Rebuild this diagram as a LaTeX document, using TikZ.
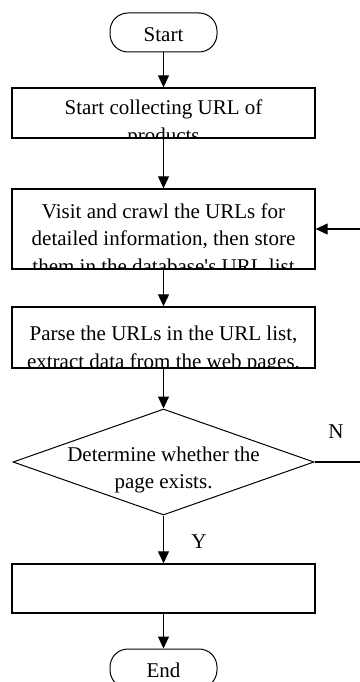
\documentclass[tikz,border=0pt]{standalone}
\usepackage{fontspec}
\setmainfont{Liberation Serif}
\usetikzlibrary{arrows.meta,shapes.geometric}

\tikzset{
  procbox/.style={draw, rectangle, line width=1.3pt, minimum width=303pt, inner sep=0pt},
  termbox/.style={draw, rectangle, rounded corners=18pt, line width=1pt,
    minimum width=107pt, minimum height=39pt, inner sep=0pt, text height=18pt},
  decbox/.style={draw, diamond, line width=1pt, minimum width=301pt, minimum height=106pt, inner sep=0pt},
  flow/.style={-{Triangle[length=12pt,width=11pt]}, line width=1.1pt},
  lbl/.style={inner sep=0pt, anchor=base}
}

% text lines cut off by the shape, #1 = first baseline below the top
\newcommand\cliplines[2]{%
  \foreach \txt [count=\k from 0] in {#2}
    \node[lbl] at ([yshift={-(#1+\k*27.5)*1pt}]path picture bounding box.north) {\txt};}

\begin{document}
\begin{tikzpicture}[x=1pt, y=-1pt, font=\fontsize{21}{25.5}\selectfont]

\def \xmid     {163.5}
\def \xedge    {362}

\def \ystart   {32.5}
\def \ycollect {113}
\def \yvisit   {229}
\def \yparse   {337.5}
\def \ydecide  {462}
\def \yempty   {588.5}
\def \yend     {668.5}

\useasboundingbox (0,0) rectangle (359,682);

% terminals
\node [termbox] (start) at (\xmid, \ystart) {Start};
\node [termbox] (end)   at (\xmid, \yend)   {End};
% steps
\node [procbox, minimum height=50pt,
  path picture={\cliplines{27}{Start collecting URL of, products}}] (collect) at (\xmid, \ycollect) {};
\node [procbox, minimum height=80pt,
  path picture={\cliplines{29}{Visit and crawl the URLs for, {detailed information, then store}, them in the database\textquotesingle s URL list}}] (visit) at (\xmid, \yvisit) {};
\node [procbox, minimum height=61pt,
  path picture={\cliplines{33.5}{{Parse the URLs in the URL list,}, extract data from the web pages.}}] (parse) at (\xmid, \yparse) {};
% decision
\node [decbox,
  path picture={\cliplines{52}{Determine whether the, page exists.}}] (decide) at (\xmid, \ydecide) {};
\node [procbox, minimum height=49pt] (empty) at (\xmid, \yempty) {};

% loose ends at the right edge
\coordinate (nout) at (\xedge, \ydecide);
\coordinate (nin)  at (\xedge, \yvisit);

% flow
\draw [flow] (start) -- (collect);
\draw [flow] (collect) -- (visit);
\draw [flow] (visit) -- (parse);
\draw [flow] (parse) -- (decide);
\draw [flow] (decide) -- (empty);
\draw [flow] (empty) -- (end);
\draw [line width=1.1pt] (decide.east) -- (nout);
\draw [flow] (nin) -- (visit.east);

% branch labels
\node [lbl] (nlabel) at (336, 438) {N};
\node [lbl] (ylabel) at (199, 548) {Y};

\end{tikzpicture}
\end{document}
